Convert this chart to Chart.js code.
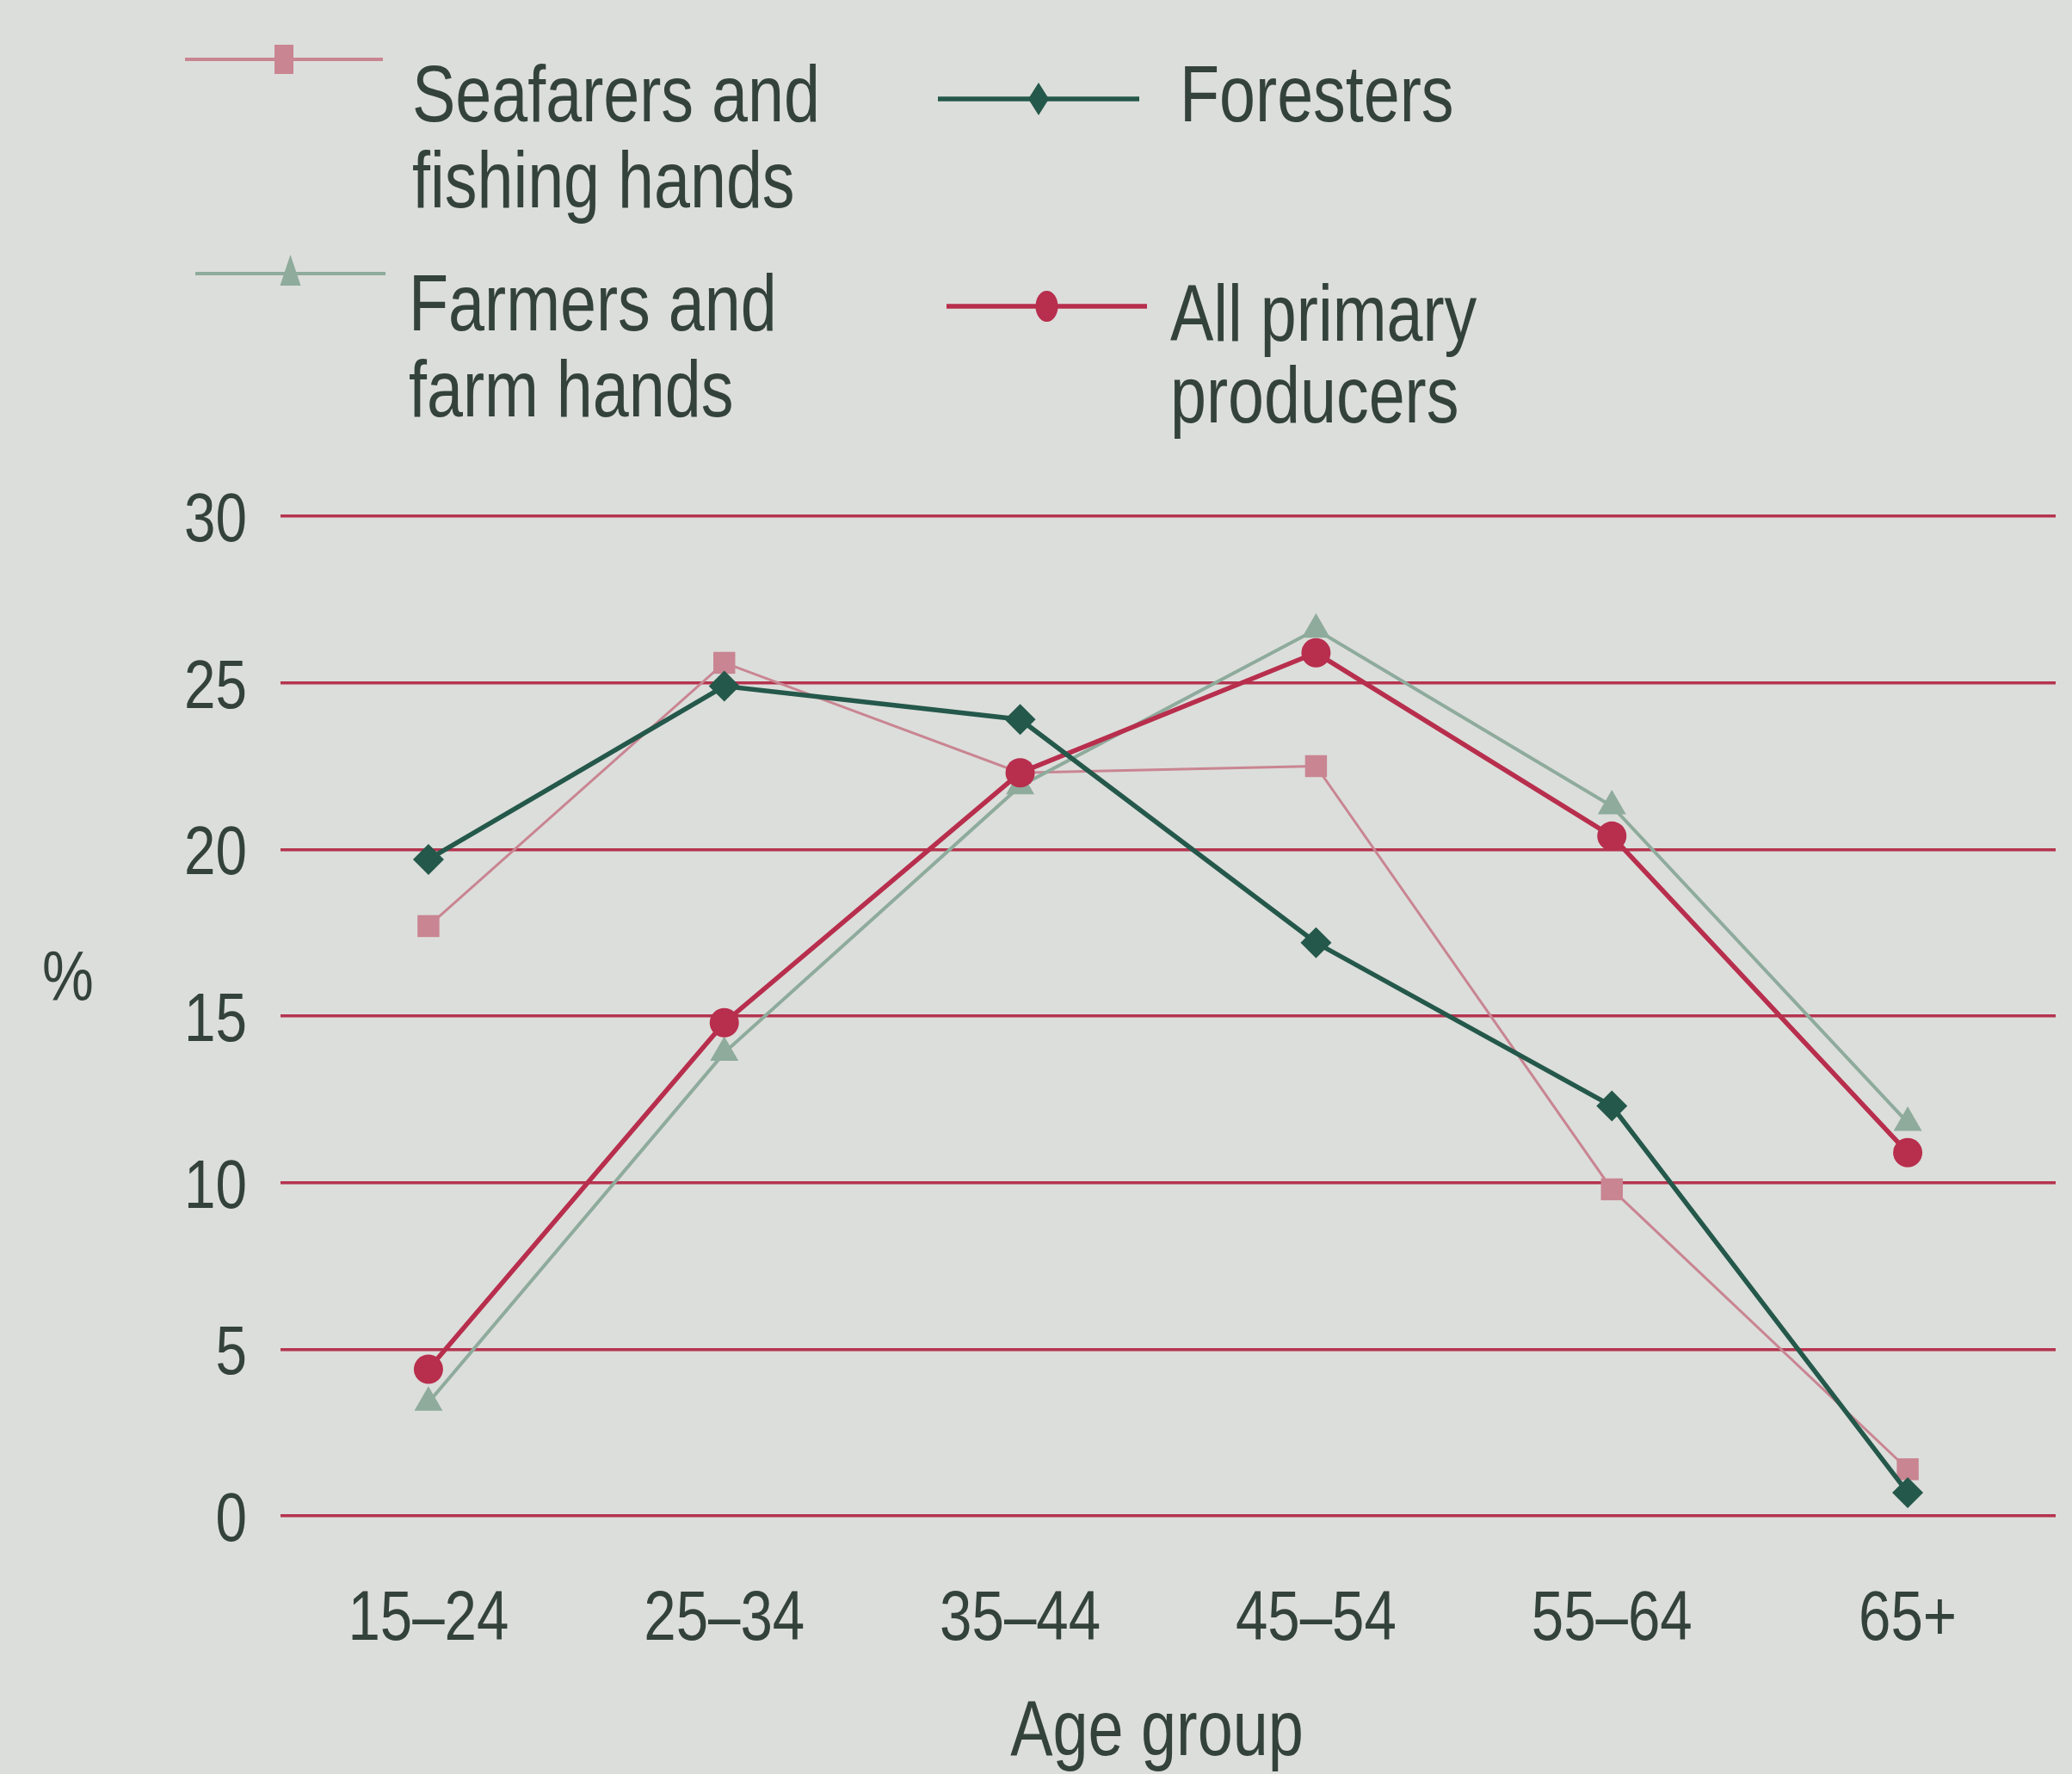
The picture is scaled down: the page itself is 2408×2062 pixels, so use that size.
<!DOCTYPE html>
<html>
<head>
<meta charset="utf-8">
<script src="https://cdn.jsdelivr.net/npm/chart.js@4.4.1/dist/chart.umd.min.js"></script>
<style>
  html, body { margin: 0; padding: 0; background: #dcdedb; }
  canvas { display: block; }
</style>
</head>
<body>
<canvas id="chart" width="2408" height="2062"></canvas>
<script>
// Age distribution of primary-industry workers, per cent of each group
const ageGroups = ['15–24', '25–34', '35–44', '45–54', '55–64', '65+'];
const seafarers = [17.7, 25.6, 22.3, 22.5, 9.8, 1.4];
const foresters = [19.7, 24.9, 23.9, 17.2, 12.3, 0.7];
const farmers = [3.4, 13.9, 21.9, 26.6, 21.3, 11.8];
const allPrimary = [4.4, 14.8, 22.3, 25.9, 20.4, 10.9];
const yTicks = [0, 5, 10, 15, 20, 25, 30];
const seriesLabels = [['Seafarers and', 'fishing hands'], ['Foresters'], ['Farmers and', 'farm hands'], ['All primary', 'producers']];

const FONT = '"Liberation Sans", Arial, sans-serif';
const NARROW = 0.82;          // horizontal squeeze giving a condensed face
const INK = '#34423c';
const PAPER = '#dcdedb';
const RULE = '#b5344f';

const datasets = [
  { label: seriesLabels[0].join(' '), data: seafarers, borderColor: '#c98592', backgroundColor: '#c98592',
    borderWidth: 3, pointStyle: 'rect', pointRadius: 18, order: 3 },
  { label: seriesLabels[1].join(' '), data: foresters, borderColor: '#24584a', backgroundColor: '#24584a',
    borderWidth: 5.5, pointStyle: 'rectRot', pointRadius: 18, order: 0 },
  { label: seriesLabels[2].join(' '), data: farmers, borderColor: '#8eab9c', backgroundColor: '#8eab9c',
    borderWidth: 4, pointStyle: 'triangle', pointRadius: 19, order: 2 },
  { label: seriesLabels[3].join(' '), data: allPrimary, borderColor: '#b82e4d', backgroundColor: '#b82e4d',
    borderWidth: 5.5, pointStyle: 'circle', pointRadius: 17, order: 1 }
].map(d => Object.assign({ tension: 0, pointBorderWidth: 0, pointHoverRadius: d.pointRadius }, d));

// legend placement: key line and text anchor for each series
const legendSlots = [
  { x1: 215, x2: 445, y: 69, tx: 479, base: [141, 241] },
  { x1: 1090, x2: 1324, y: 115, tx: 1371, base: [141] },
  { x1: 227, x2: 448, y: 318, tx: 475, base: [384, 484] },
  { x1: 1100, x2: 1333, y: 356, tx: 1360, base: [396, 491] }
];

function narrowText(ctx, text, x, y, size, align) {
  ctx.save();
  ctx.translate(x, y);
  ctx.scale(NARROW, 1);
  ctx.font = size + 'px ' + FONT;
  ctx.fillStyle = INK;
  ctx.textAlign = align;
  ctx.textBaseline = 'alphabetic';
  ctx.fillText(text, 0, 0);
  ctx.restore();
}

// legend keys are drawn a little taller than wide, like the printed keys
function drawKey(ctx, style, x, y, color) {
  ctx.save();
  ctx.fillStyle = color;
  ctx.beginPath();
  if (style === 'rect') {
    ctx.rect(x - 11, y - 17, 22, 34);
  } else if (style === 'rectRot') {
    ctx.moveTo(x, y - 19); ctx.lineTo(x + 12, y); ctx.lineTo(x, y + 19); ctx.lineTo(x - 12, y); ctx.closePath();
  } else if (style === 'triangle') {
    ctx.moveTo(x, y - 22); ctx.lineTo(x + 12, y + 14); ctx.lineTo(x - 12, y + 14); ctx.closePath();
  } else {
    ctx.ellipse(x, y, 13, 18, 0, 0, Math.PI * 2);
  }
  ctx.fill();
  ctx.restore();
}

const decorations = {
  id: 'decorations',
  beforeDraw(chart) {
    const ctx = chart.ctx;
    ctx.save();
    ctx.fillStyle = PAPER;
    ctx.fillRect(0, 0, chart.width, chart.height);
    ctx.restore();
  },
  afterDraw(chart) {
    const ctx = chart.ctx;
    const area = chart.chartArea;
    const xs = chart.scales.x, ys = chart.scales.y;
    ctx.save();
    // tick labels
    yTicks.forEach(v => narrowText(ctx, String(v), ys.right - 39, ys.getPixelForValue(v) + 29, 80, 'right'));
    ageGroups.forEach((g, i) => narrowText(ctx, g, xs.getPixelForValue(i), 1906, 82, 'center'));
    // legend
    chart.data.datasets.forEach((ds, i) => {
      const s = legendSlots[i];
      ctx.strokeStyle = ds.borderColor;
      ctx.lineWidth = Math.max(ds.borderWidth, 4);
      ctx.beginPath(); ctx.moveTo(s.x1, s.y); ctx.lineTo(s.x2, s.y); ctx.stroke();
      drawKey(ctx, ds.pointStyle, (s.x1 + s.x2) / 2, s.y, ds.backgroundColor);
      seriesLabels[i].forEach((line, k) => narrowText(ctx, line, s.tx, s.base[k], 92, 'left'));
    });
    // axis titles
    narrowText(ctx, '%', 79, 1163, 82, 'center');
    narrowText(ctx, 'Age group', (area.left + area.right) / 2 - 13, 2040, 90, 'center');
    ctx.restore();
  }
};

new Chart(document.getElementById('chart'), {
  type: 'line',
  data: { labels: ageGroups, datasets },
  options: {
    responsive: false,
    animation: false,
    devicePixelRatio: 1,
    layout: { padding: { top: 600, right: 5, left: 0, bottom: 0 } },
    plugins: { legend: { display: false }, tooltip: { enabled: false } },
    scales: {
      x: {
        offset: true,
        grid: { display: false, drawTicks: false },
        border: { display: false },
        ticks: { display: false },
        afterFit(s) { s.height = 300; }
      },
      y: {
        min: yTicks[0],
        max: yTicks[yTicks.length - 1],
        afterBuildTicks(s) { s.ticks = yTicks.map(v => ({ value: v })); },
        grid: { color: RULE, lineWidth: 3.5, drawTicks: false },
        border: { display: false },
        ticks: { display: false },
        afterFit(s) { s.width = 326; }
      }
    }
  },
  plugins: [decorations]
});
</script>
</body>
</html>
